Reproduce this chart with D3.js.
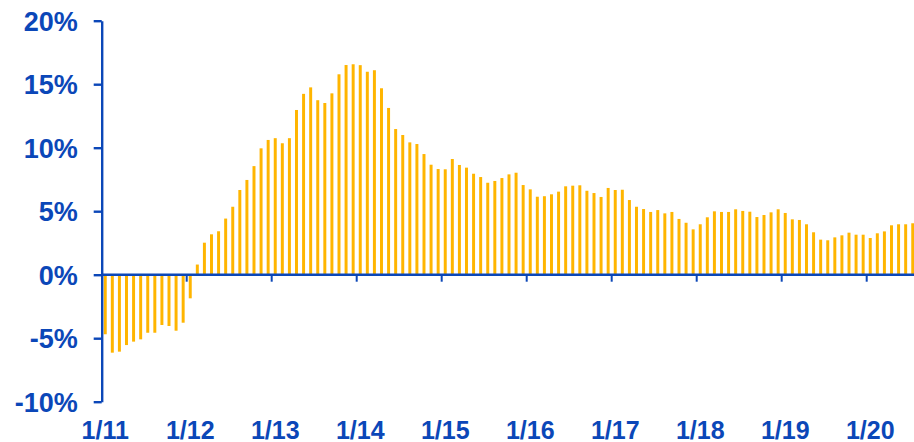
<!DOCTYPE html>
<html>
<head>
<meta charset="utf-8">
<script src="https://cdn.jsdelivr.net/npm/d3@7"></script>
<style>
  body { margin: 0; background: #fff; }
  svg { display: block; }
  text { font-family: "Liberation Sans", Arial, sans-serif; font-weight: bold; fill: #0b47b8; }
</style>
</head>
<body>
<svg id="chart" width="914" height="442"></svg>
<script>
// year-on-year growth, %, one value per month (Jan..Dec)
const years = [2011, 2012, 2013, 2014, 2015, 2016, 2017, 2018, 2019, 2020]
const growth2011 = [-4.69, -6.14, -6.06, -5.54, -5.27, -5.09, -4.57, -4.57, -3.96, -4.04, -4.41, -3.78]
const growth2012 = [-1.86, 0.80, 2.52, 3.18, 3.42, 4.42, 5.35, 6.67, 7.46, 8.55, 9.95, 10.61]
const growth2013 = [10.75, 10.35, 10.75, 12.97, 14.24, 14.75, 13.74, 13.52, 14.28, 15.78, 16.51, 16.57]
const growth2014 = [16.50, 15.98, 16.10, 14.68, 13.13, 11.47, 11.00, 10.42, 10.29, 9.50, 8.66, 8.32]
const growth2015 = [8.30, 9.11, 8.64, 8.43, 7.95, 7.69, 7.24, 7.38, 7.61, 7.90, 8.03, 7.06]
const growth2016 = [6.72, 6.14, 6.18, 6.33, 6.54, 6.96, 7.01, 7.04, 6.61, 6.43, 6.12, 6.83]
const growth2017 = [6.67, 6.69, 5.88, 5.35, 5.17, 4.94, 5.09, 4.83, 4.94, 4.39, 4.09, 3.57]
const growth2018 = [3.97, 4.52, 4.99, 4.94, 4.94, 5.15, 5.02, 4.96, 4.54, 4.70, 4.91, 5.15]
const growth2019 = [4.86, 4.36, 4.31, 3.97, 3.34, 2.76, 2.71, 2.94, 3.10, 3.31, 3.15, 3.15]
const growth2020 = [2.89, 3.26, 3.41, 3.89, 3.97, 3.97, 4.05]
const yearLabels = ["1/11", "1/12", "1/13", "1/14", "1/15", "1/16", "1/17", "1/18", "1/19", "1/20"]
const yTicks = [-10, -5, 0, 5, 10, 15, 20]

const series = [growth2011, growth2012, growth2013, growth2014, growth2015,
                growth2016, growth2017, growth2018, growth2019, growth2020]
const data = []
series.forEach((vals, yi) => vals.forEach((v, m) => data.push({ year: years[yi], month: m, key: years[yi] + '-' + (m + 1), value: v })))

const svg = d3.select('#chart')
const left = 101.7, step = 85 / 12
const nMonths = 115

// band scale over every month, bar ~3px wide in a ~7px slot
const x = d3.scaleBand()
  .domain(data.map(d => d.key))
  .range([left, left + nMonths * step])
  .paddingInner(0.58)
  .paddingOuter(0.29)

const y = d3.scaleLinear()
  .domain([-10, 20])
  .range([401.7, 20.7])

// bars
svg.append('g')
  .selectAll('rect')
  .data(data)
  .enter()
  .append('rect')
  .attr('x', d => x(d.key))
  .attr('width', x.bandwidth())
  .attr('y', d => y(Math.max(0, d.value)))
  .attr('height', d => Math.abs(y(d.value) - y(0)))
  .style('fill', '#ffb500')

// y axis
const yAxis = svg.append('g')
  .attr('transform', `translate(${left},0)`)
  .call(d3.axisLeft(y).tickValues(yTicks).tickFormat(d => d + '%').tickSize(8).tickSizeOuter(0).tickPadding(16))
yAxis.selectAll('path, line').style('stroke', '#0b47b8').style('stroke-width', 2.4)
yAxis.selectAll('text').style('font-size', '27px').attr('dy', '0.36em').style('fill', '#0b47b8')

// x axis at zero
const x0 = y(0)
svg.append('line')
  .attr('x1', left).attr('x2', 914)
  .attr('y1', x0).attr('y2', x0)
  .style('stroke', '#0b47b8').style('stroke-width', 2.6)

const janKeys = years.map(yr => yr + '-1')
svg.append('g')
  .selectAll('line')
  .data(janKeys.slice(1))
  .enter()
  .append('line')
  .attr('x1', d => x(d) - x.step() * x.paddingOuter())
  .attr('x2', d => x(d) - x.step() * x.paddingOuter())
  .attr('y1', x0).attr('y2', x0 + 7)
  .style('stroke', '#0b47b8').style('stroke-width', 2)

svg.append('g')
  .selectAll('text')
  .data(janKeys)
  .enter()
  .append('text')
  .attr('x', d => x(d) + x.bandwidth() / 2)
  .attr('y', 439)
  .attr('text-anchor', 'middle')
  .style('font-size', '25px')
  .text((d, i) => yearLabels[i])
</script>
</body>
</html>
